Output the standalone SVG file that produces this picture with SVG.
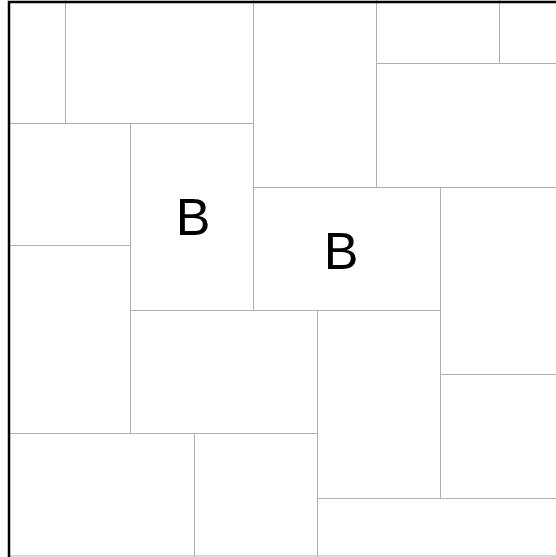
<svg xmlns="http://www.w3.org/2000/svg" width="556" height="557" viewBox="0 0 556 557">
<style>
.g line{stroke:#b0b0b0;stroke-width:1}
.b{stroke:#000;fill:none}
text{font-family:"Liberation Sans",Arial,sans-serif;font-size:52px;fill:#000;text-anchor:middle}
</style>
<rect width="556" height="557" fill="#fff"/>
<g id="connectors" class="g">
<line x1="65.5" y1="0" x2="65.5" y2="123"/>
<line x1="9" y1="123.5" x2="253" y2="123.5"/>
<line x1="253.5" y1="0" x2="253.5" y2="310"/>
<line x1="376.5" y1="0" x2="376.5" y2="187"/>
<line x1="376" y1="63.5" x2="556" y2="63.5"/>
<line x1="499.5" y1="0" x2="499.5" y2="63"/>
<line x1="253" y1="187.5" x2="556" y2="187.5"/>
<line x1="130.5" y1="123" x2="130.5" y2="433"/>
<line x1="9" y1="245.5" x2="130" y2="245.5"/>
<line x1="440.5" y1="187" x2="440.5" y2="498"/>
<line x1="130" y1="310.5" x2="440" y2="310.5"/>
<line x1="317.5" y1="310" x2="317.5" y2="556"/>
<line x1="440" y1="374.5" x2="556" y2="374.5"/>
<line x1="9" y1="433.5" x2="317" y2="433.5"/>
<line x1="194.5" y1="433" x2="194.5" y2="556"/>
<line x1="317" y1="498.5" x2="556" y2="498.5"/>
<line x1="9" y1="556" x2="556" y2="556"/>
</g>
<path class="b" d="M9 557V2H556" stroke-width="2.5"/>
<g id="n1"><text x="193" y="235">B</text></g>
<g id="n2"><text x="341" y="269">B</text></g>
</svg>
